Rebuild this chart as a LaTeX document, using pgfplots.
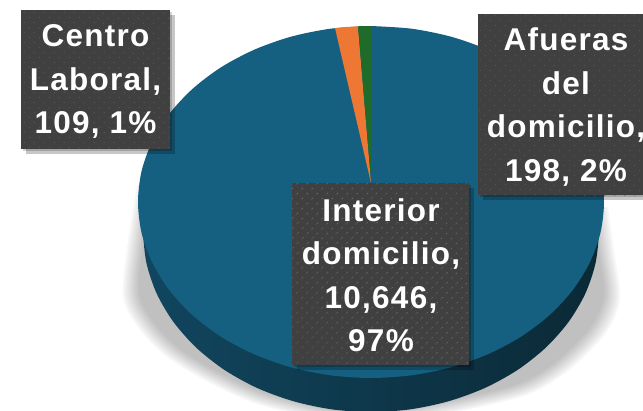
\documentclass[border=0pt]{standalone}
\usepackage{pgfplots}
\usepackage{pgfplotstable}
\usepackage{fontspec}
\newfontfamily\labfont[LetterSpace=4]{Liberation Sans}
\pgfplotsset{compat=1.18}
\usetikzlibrary{patterns.meta,shadows}

\definecolor{topblue}{HTML}{155F80}
\definecolor{sideleft}{HTML}{11465F}
\definecolor{sidemid}{HTML}{04222F}
\definecolor{sideright}{HTML}{0B2936}
\definecolor{slorange}{HTML}{EE7833}
\definecolor{slgreen}{HTML}{1E6B2A}
\definecolor{boxgray}{HTML}{404040}
\definecolor{boxdot}{HTML}{5E5E5E}

% outer limit of the soft shadow under the pie
\pgfplotstableread{
x y
137 185
128 240
123 297
140 330
167 357
210 383
267 407
371 425
510 400
560 377
603 337
620 300
614 250
608 207
}\shadowpts

\tikzset{
  lab/.style={
    inner sep=0pt, fill=boxgray,
    general shadow={shadow xshift=2pt, shadow yshift=-2pt, fill=black, opacity=.18},
    general shadow={shadow xshift=5pt, shadow yshift=-5pt, fill=black, opacity=.22},
    postaction={pattern={Dots[radius=.7pt, distance=7.4pt, angle=45]}, pattern color=boxdot}
  },
  labtext/.style={
    font=\labfont\bfseries\fontsize{31.5}{43.5}\selectfont, text=white, align=center,
    inner sep=0pt
  }
}

\begin{document}
\begin{tikzpicture}[x=1pt,y=1pt]
\useasboundingbox (0,0) rectangle (643,410);
\begin{axis}[
  at={(0,0)}, anchor=south west,
  scale only axis, width=643pt, height=410pt,
  xmin=0, xmax=643, ymin=0, ymax=410, y dir=reverse,
  hide axis, clip mode=global
]

% shadow, built up in layers
\pgfplotsinvokeforeach{1.00,0.992,0.984,0.976,0.968,0.96,0.952,0.944,0.936}{
  \addplot[draw=none, fill=black, fill opacity=.03, smooth]
    table[x expr={371+(\thisrow{x}-371)*#1}, y expr={230+(\thisrow{y}-230)*#1}] {\shadowpts} -- cycle;
}

% rim
\addplot[draw=none, left color=sideleft, middle color=sidemid, right color=sideright, smooth]
  coordinates {(599,202) (599,232) (595.5,263.3) (585.3,293.6) (568.5,322) (545.7,347.7)
    (517.6,369.9) (485,387.9) (449,401.1) (410.6,409.3) (371,412) (331.4,409.3) (293,401.1)
    (257,387.9) (224.4,369.9) (196.3,347.7) (173.5,322) (156.7,293.6) (146.5,263.3)
    (143,232) (143,202)} -- cycle;

% Interior domicilio, top face
\addplot[draw=none, fill=topblue, smooth]
  coordinates {(371,26) (411.5,28.7) (450.7,36.6) (487.5,49.6) (520.8,67.2) (549.5,88.9)
    (572.8,114) (589.9,141.8) (600.5,171.4) (604,202) (600.5,232.6) (589.9,262.2)
    (572.8,290) (549.5,315.1) (520.8,336.8) (487.5,354.4) (450.7,367.4) (411.5,375.3)
    (371,378) (330.5,375.3) (291.3,367.4) (254.5,354.4) (221.2,336.8) (192.5,315.1)
    (169.2,290) (152.1,262.2) (141.5,232.6) (138,202) (141.5,171.4) (152.1,141.8)
    (169.2,114) (192.5,88.9) (221.2,67.2) (254.5,49.6) (291.3,36.6) (330.5,28.7) (371,26)} -- cycle;

% Afueras del domicilio
\addplot[draw=none, fill=slorange]
  coordinates {(371,183) (335,28.1) (346,27) (358,26.3)} -- cycle;
% Centro Laboral
\addplot[draw=none, fill=slgreen]
  coordinates {(371.5,185) (358,26.3) (365,26) (371.5,26)} -- cycle;

\node[lab, minimum width=149pt, minimum height=139pt] at (axis cs:95.5,79.5) {};
\node[labtext] at (axis cs:95.5,81.5) {Centro\\Laboral,\\109, 1\%};
\node[lab, minimum width=170pt, minimum height=181pt] at (axis cs:563,104.5) {};
\node[labtext] at (axis cs:566,107) {Afueras\\del\\domicilio,\\198, 2\%};
\node[lab, minimum width=177pt, minimum height=182pt] at (axis cs:380.5,274) {};
\node[labtext] at (axis cs:381,275) {Interior\\domicilio,\\10,646,\\97\%};
\end{axis}
\end{tikzpicture}
\end{document}
